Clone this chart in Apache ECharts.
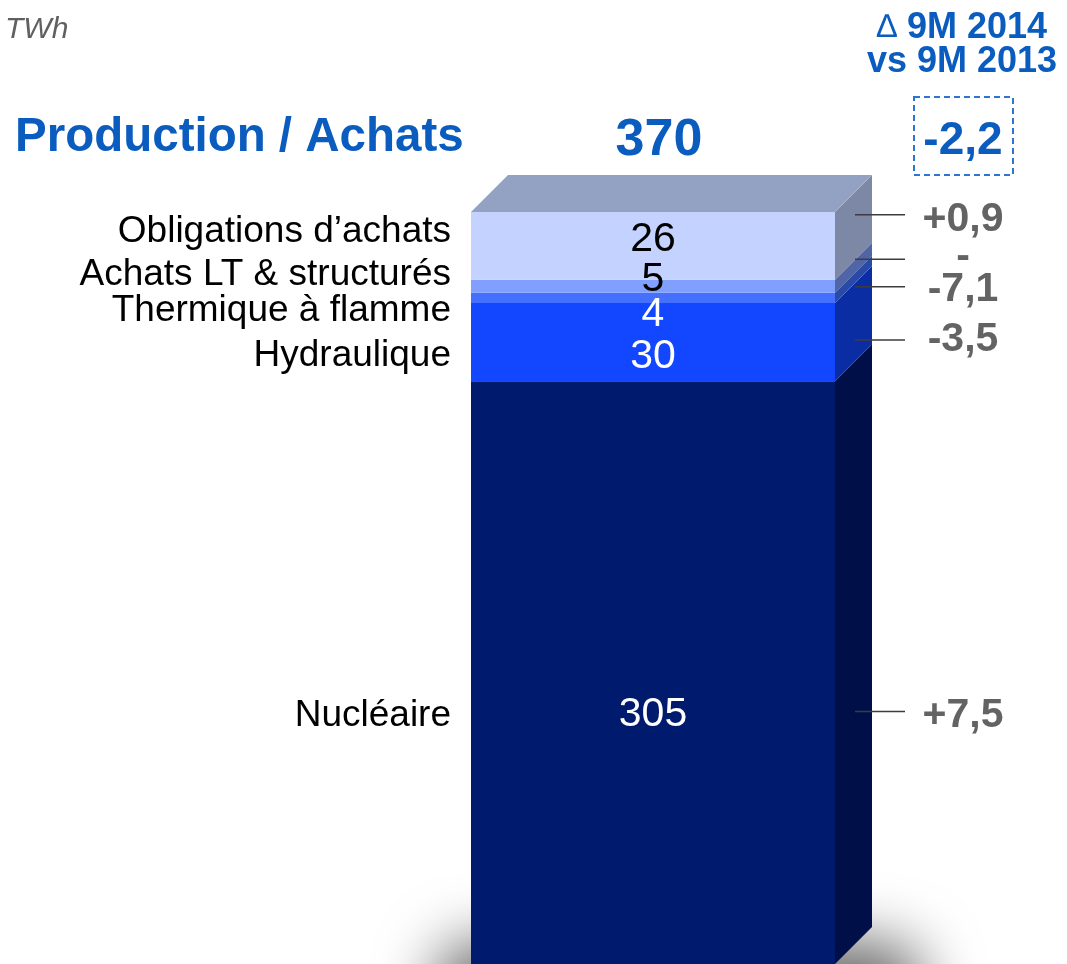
<!DOCTYPE html>
<html>
<head>
<meta charset="utf-8">
<script src="https://cdn.jsdelivr.net/npm/echarts@6/dist/echarts.min.js"></script>
<style>
html, body { margin: 0; padding: 0; background: #fff; }
#chart { width: 1067px; height: 964px; }
</style>
</head>
<body>
<div id="chart"></div>
<script>
// segments, stacked from the bottom up
var categories = ['Nucléaire', 'Hydraulique', 'Thermique à flamme', 'Achats LT & structurés', 'Obligations d’achats'];
var values = [305, 30, 4, 5, 26];
// change 9M 2014 vs 9M 2013
var deltas = [7.5, -3.5, -7.1, 0, 0.9];
var unit = 'TWh';
var title = 'Production / Achats';
var deltaHeader = ['9M 2014', 'vs 9M 2013'];

var FONT = '"Liberation Sans", Arial, sans-serif';
var blue = '#0b5cbf';
var frontColors = ['#001a6e', '#1247ff', '#4570ff', '#809fff', '#c4d2ff'];
var sideColors = ['#000f48', '#0a2da3', '#2a4aa8', '#5065a6', '#7d87a6'];
var topColor = '#93a1c2';
var valueColors = ['#fff', '#fff', '#fff', '#000', '#000'];
// small nudges (px) from the middle of each segment, so the texts don't collide
var valueNudge = [42, 15, 17, -6, -6];
var nameNudge = [43, 14, 13, -11, -14];
var deltaNudge = [43, -2, -8, -29, -26];
var lineNudge = [39, -2, -11, -27, -31];

var yMin = 81;   // axis is cut, like on the slide
var depth = 37;

function fmt(d) {
    if (d === 0) return '-';
    return (d > 0 ? '+' : '-') + Math.abs(d).toFixed(1).replace('.', ',');
}

var total = 0;
var segData = [];
for (var i = 0; i < values.length; i++) {
    segData.push([0, total, total + values[i], i]);
    total += values[i];
}
var deltaTotal = 0;
for (var i = 0; i < deltas.length; i++) deltaTotal += deltas[i];
deltaTotal = Math.round(deltaTotal * 10) / 10;

function renderItem(params, api) {
    var i = api.value(3);
    var lo = api.coord([0, Math.max(api.value(1), yMin)]);
    var hi = api.coord([0, api.value(2)]);
    var w = api.size([1, 0])[0];
    var x0 = lo[0] - w / 2, x1 = lo[0] + w / 2;
    var yb = lo[1], yt = hi[1];
    var mid = (yb + yt) / 2;
    var d = depth;
    var children = [];

    if (i === 0) {
        // soft floor shadow: the shape sits off screen, only its blur shows
        children.push({
            type: 'rect',
            shape: { x: x0 - 35, y: yb - 22 + 400, width: w + d + 85, height: 140, r: 40 },
            style: { fill: '#999', shadowBlur: 60, shadowColor: 'rgba(105,105,105,1)', shadowOffsetY: -400 }
        });
    }
    children.push({
        type: 'rect',
        shape: { x: x0, y: yt, width: w, height: yb - yt },
        style: { fill: frontColors[i] }
    });
    children.push({
        type: 'polygon',
        shape: { points: [[x1, yt], [x1 + d, yt - d], [x1 + d, yb - d], [x1, yb]] },
        style: { fill: sideColors[i] }
    });
    if (i === values.length - 1) {
        children.push({
            type: 'polygon',
            shape: { points: [[x0, yt], [x0 + d, yt - d], [x1 + d, yt - d], [x1, yt]] },
            style: { fill: topColor }
        });
    }
    children.push({
        type: 'text', z2: 100,
        x: lo[0], y: mid + valueNudge[i],
        style: { text: String(values[i]), fill: valueColors[i], font: '41px ' + FONT, align: 'center', verticalAlign: 'middle' }
    });
    children.push({
        type: 'text', z2: 100,
        x: x0 - 20, y: mid + nameNudge[i],
        style: { text: categories[i], fill: '#000', font: '37px ' + FONT, align: 'right', verticalAlign: 'middle' }
    });
    children.push({
        type: 'line', z2: 100,
        shape: { x1: x1 + 20, y1: mid + lineNudge[i], x2: x1 + 70, y2: mid + lineNudge[i] },
        style: { stroke: '#3c3c3c', lineWidth: 1.5 }
    });
    children.push({
        type: 'text', z2: 100,
        x: x1 + 128, y: mid + deltaNudge[i],
        style: { text: fmt(deltas[i]), fill: '#636363', font: 'bold 41px ' + FONT, align: 'center', verticalAlign: 'middle' }
    });
    return { type: 'group', children: children };
}

var chart = echarts.init(document.getElementById('chart'));
chart.setOption({
    animation: false,
    grid: { left: 471, top: 212, width: 364, bottom: 0 },
    xAxis: { type: 'category', data: [''], show: false },
    yAxis: { type: 'value', min: yMin, max: total, show: false },
    graphic: [
        { type: 'text', x: 5, y: 30, style: { text: unit, fill: '#606060', font: 'italic 30px ' + FONT, verticalAlign: 'middle' } },
        { type: 'text', x: 15, y: 138, style: { text: title, fill: blue, font: 'bold 47.5px ' + FONT, verticalAlign: 'middle' } },
        { type: 'text', x: 659, y: 141, style: { text: String(total), fill: blue, font: 'bold 52px ' + FONT, align: 'center', verticalAlign: 'middle' } },
        { type: 'text', x: 962, y: 28, style: {
            text: '{d|∆} ' + deltaHeader[0], fill: blue, font: 'bold 36px ' + FONT, align: 'center', verticalAlign: 'middle',
            rich: { d: { font: '33px ' + FONT, fill: blue } } } },
        { type: 'text', x: 962, y: 62, style: { text: deltaHeader[1], fill: blue, font: 'bold 36px ' + FONT, align: 'center', verticalAlign: 'middle' } },
        { type: 'rect', shape: { x: 914, y: 97, width: 99, height: 78 }, style: { fill: 'none', stroke: '#2f74d0', lineWidth: 2, lineDash: [6, 4] } },
        { type: 'text', x: 963, y: 141, style: { text: fmt(deltaTotal), fill: blue, font: 'bold 46px ' + FONT, align: 'center', verticalAlign: 'middle' } }
    ],
    series: [{
        type: 'custom',
        clip: false,
        renderItem: renderItem,
        encode: { x: 0, y: [1, 2] },
        data: segData
    }]
});
</script>
</body>
</html>
